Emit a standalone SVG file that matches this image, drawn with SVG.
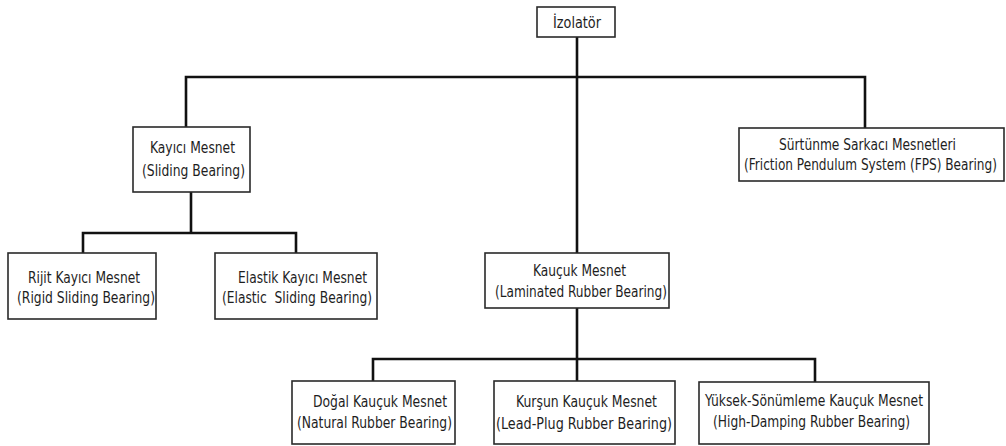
<svg xmlns="http://www.w3.org/2000/svg" width="1006" height="446" viewBox="0 0 1006 446">
<style>
.box{fill:#fff;stroke:#2a2a2a;stroke-width:1.6}
.t{font-family:"DejaVu Sans Condensed","DejaVu Sans","Liberation Sans",sans-serif;font-size:15.5px;fill:#1e1e1e}
.c{stroke:#111;stroke-width:2.6;fill:none;stroke-linecap:square}
</style>
<rect width="1006" height="446" fill="#fff"/>
<g id="connectors">
<path class="c" d="M577 37V77M186 77H865M186 77V127M865 77V128M577 77V253"/>
<path class="c" d="M191 192V233M83 233H296M83 233V253M296 233V253"/>
<path class="c" d="M577 308V359M373 359H815M373 359V381M577 359V381M815 359V382"/>
</g>
<g id="izolator">
<rect class="box" x="537" y="7" width="78" height="30"/>
<text class="t" x="553" y="28" textLength="48" lengthAdjust="spacingAndGlyphs">İzolatör</text>
</g>
<g id="kayici">
<rect class="box" x="133" y="127" width="117" height="65"/>
<text class="t" x="150" y="153" textLength="85" lengthAdjust="spacingAndGlyphs">Kayıcı Mesnet</text>
<text class="t" x="142" y="176" textLength="103" lengthAdjust="spacingAndGlyphs">(Sliding Bearing)</text>
</g>
<g id="fps">
<rect class="box" x="739" y="128" width="265" height="53"/>
<text class="t" x="779" y="150" textLength="177" lengthAdjust="spacingAndGlyphs">Sürtünme Sarkacı Mesnetleri</text>
<text class="t" text-anchor="middle" transform="translate(870.5 170) scale(0.87 1)">(Friction Pendulum System (FPS) Bearing)</text>
</g>
<g id="rijit">
<rect class="box" x="8" y="253" width="148" height="66"/>
<text class="t" x="28" y="283" textLength="112" lengthAdjust="spacingAndGlyphs">Rijit Kayıcı Mesnet</text>
<text class="t" x="17" y="303" textLength="138" lengthAdjust="spacingAndGlyphs">(Rigid Sliding Bearing)</text>
</g>
<g id="elastik">
<rect class="box" x="215" y="253" width="162" height="66"/>
<text class="t" x="238" y="283" textLength="129" lengthAdjust="spacingAndGlyphs">Elastik Kayıcı Mesnet</text>
<text class="t" x="222" y="303" textLength="150" lengthAdjust="spacingAndGlyphs" xml:space="preserve">(Elastic  Sliding Bearing)</text>
</g>
<g id="kaucuk">
<rect class="box" x="485" y="253" width="184" height="55"/>
<text class="t" x="533" y="276" textLength="93" lengthAdjust="spacingAndGlyphs">Kauçuk Mesnet</text>
<text class="t" x="495" y="297" textLength="172" lengthAdjust="spacingAndGlyphs">(Laminated Rubber Bearing)</text>
</g>
<g id="dogal">
<rect class="box" x="292" y="381" width="163" height="63"/>
<text class="t" x="313" y="407" textLength="134" lengthAdjust="spacingAndGlyphs">Doğal Kauçuk Mesnet</text>
<text class="t" x="297" y="428" textLength="155" lengthAdjust="spacingAndGlyphs">(Natural Rubber Bearing)</text>
</g>
<g id="kursun">
<rect class="box" x="494" y="381" width="181" height="63"/>
<text class="t" x="516" y="407" textLength="141" lengthAdjust="spacingAndGlyphs">Kurşun Kauçuk Mesnet</text>
<text class="t" x="496" y="429" textLength="176" lengthAdjust="spacingAndGlyphs">(Lead-Plug Rubber Bearing)</text>
</g>
<g id="yuksek">
<rect class="box" x="699" y="382" width="230" height="62"/>
<text class="t" x="705" y="406" textLength="218" lengthAdjust="spacingAndGlyphs">Yüksek-Sönümleme Kauçuk Mesnet</text>
<text class="t" x="713" y="427" textLength="197" lengthAdjust="spacingAndGlyphs">(High-Damping Rubber Bearing)</text>
</g>
</svg>
